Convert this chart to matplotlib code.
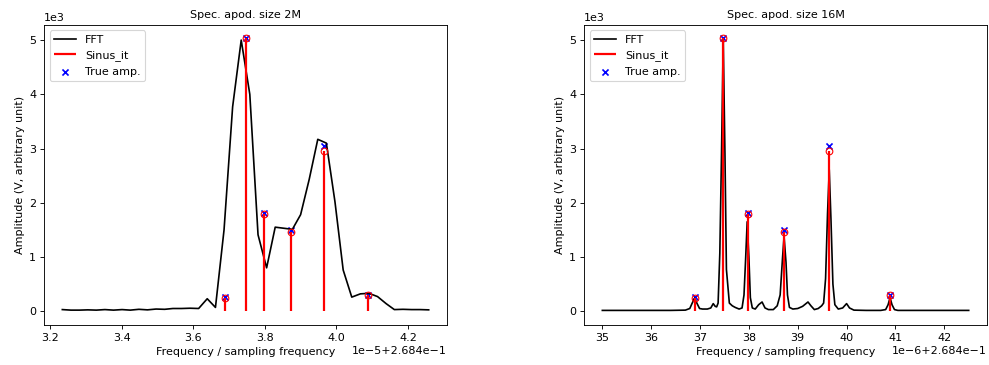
import numpy as np
import matplotlib
matplotlib.use("Agg")
import matplotlib.pyplot as plt

F0 = 0.2684

# FFT, 2M apodisation (x in 1e-5 above F0, amplitude in 1e3)
fft2_x = [3.234, 3.258, 3.282, 3.305, 3.329, 3.353, 3.377, 3.401, 3.424, 3.448,
          3.472, 3.496, 3.520, 3.543, 3.567, 3.591, 3.615, 3.639, 3.662, 3.686,
          3.710, 3.734, 3.758, 3.781, 3.805, 3.829, 3.853, 3.877, 3.900, 3.924,
          3.948, 3.972, 3.996, 4.019, 4.043, 4.067, 4.091, 4.115, 4.139, 4.162,
          4.186, 4.210, 4.234, 4.258]
fft2_y = [0.03, 0.02, 0.02, 0.025, 0.02, 0.03, 0.02, 0.03, 0.02, 0.035,
          0.025, 0.04, 0.035, 0.05, 0.05, 0.055, 0.05, 0.23, 0.07, 1.5,
          3.77, 5.0, 4.0, 1.41, 0.80, 1.55, 1.53, 1.51, 1.78, 2.43,
          3.17, 3.10, 2.02, 0.76, 0.26, 0.32, 0.33, 0.27, 0.14, 0.03,
          0.035, 0.03, 0.03, 0.025]

# FFT, 16M apodisation (x in 1e-6 above F0, amplitude in 1e3)
fft16_x = [35.0, 35.5, 36.0, 36.4, 36.7, 36.79, 36.84, 36.89, 36.94, 36.99,
           37.05, 37.15, 37.22, 37.27, 37.31, 37.34, 37.37, 37.405, 37.44, 37.475,
           37.51, 37.54, 37.60, 37.66, 37.72, 37.80, 37.86, 37.90, 37.935, 37.965,
           38.0, 38.03, 38.07, 38.13, 38.2, 38.27, 38.33, 38.4, 38.5, 38.58,
           38.64, 38.69, 38.72, 38.76, 38.79, 38.83, 38.9, 39.0, 39.1, 39.21,
           39.27, 39.34, 39.42, 39.49, 39.53, 39.57, 39.61, 39.645, 39.68, 39.72,
           39.76, 39.83, 39.92, 40.0, 40.06, 40.15, 40.4, 40.7, 40.8, 40.85,
           40.89, 40.93, 40.98, 41.05, 41.4, 42.0, 42.5]
fft16_y = [0.015, 0.015, 0.015, 0.015, 0.02, 0.05, 0.15, 0.24, 0.14, 0.05,
           0.04, 0.04, 0.06, 0.14, 0.09, 0.08, 0.15, 1.07, 2.92, 5.02,
           2.9, 0.77, 0.15, 0.10, 0.07, 0.04, 0.06, 0.3, 1.0, 1.65,
           1.0, 0.25, 0.06, 0.04, 0.12, 0.17, 0.06, 0.03, 0.03, 0.1,
           0.3, 1.0, 1.38, 0.9, 0.3, 0.07, 0.04, 0.05, 0.09, 0.17,
           0.1, 0.03, 0.05, 0.1, 0.15, 0.6, 1.8, 2.61, 1.7, 0.5,
           0.12, 0.04, 0.06, 0.14, 0.06, 0.02, 0.015, 0.015, 0.03, 0.12,
           0.25, 0.12, 0.03, 0.015, 0.015, 0.015, 0.015]

# Sinus_it results and true amplitudes (x in 1e-6 above F0, amplitude in 1e3)
sin_x = [36.89, 37.477, 37.978, 38.725, 39.648, 40.895]
sin_amp = [0.25, 5.03, 1.80, 1.47, 2.96, 0.29]
true_amp = [0.26, 5.03, 1.82, 1.50, 3.05, 0.29]

panels = [("Spec. apod. size 2M", fft2_x, fft2_y, 1e-5),
          ("Spec. apod. size 16M", fft16_x, fft16_y, 1e-6)]

fig, axes = plt.subplots(1, 2, figsize=(989 / 80, 365 / 80), dpi=80)
plt.subplots_adjust(left=0.0445, right=0.998, bottom=0.11, top=0.932, wspace=0.34)

sx = F0 + np.array(sin_x) * 1e-6
for ax, (title, fx, fy, unit) in zip(axes, panels):
    x = F0 + np.array(fx) * unit
    ax.plot(x, np.array(fy) * 1e3, color="k", lw=1.5, label="FFT")
    ax.vlines(sx, 0, np.array(sin_amp) * 1e3, color="red", lw=2, label="Sinus_it")
    ax.plot(sx, np.array(sin_amp) * 1e3, "o", mfc="none", mec="red", ms=6)
    ax.scatter(sx, np.array(true_amp) * 1e3, marker="x", color="blue", s=30, label="True amp.")
    ax.set_title(title, fontsize=10)
    ax.set_xlabel("Frequency / sampling frequency")
    ax.set_ylabel("Amplitude (V, arbitrary unit)")
    ax.ticklabel_format(axis="y", style="sci", scilimits=(0, 0))
    ax.legend(loc="upper left")

plt.savefig("out.png", dpi=80)
